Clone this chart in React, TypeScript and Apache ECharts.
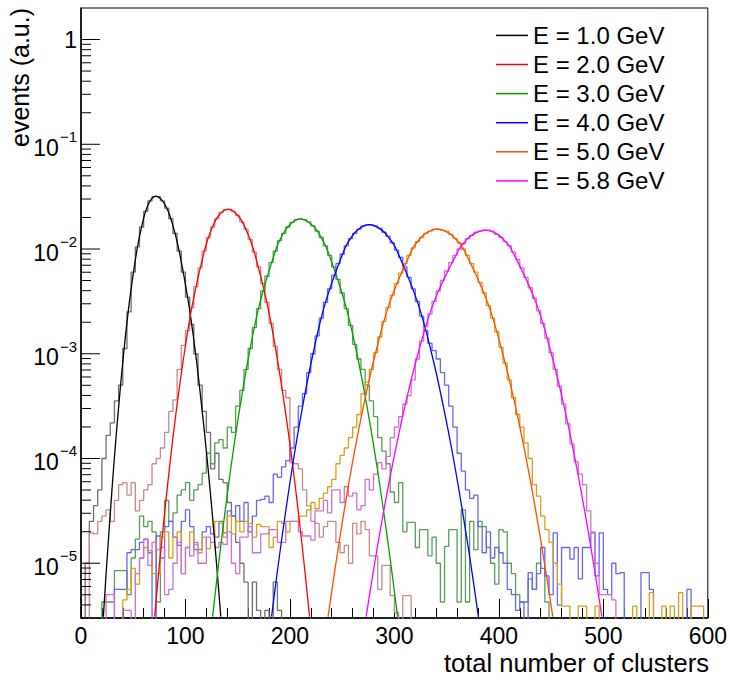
import React, { useEffect, useRef } from "react";
import * as echarts from "echarts";

const N = -9; // empty bin (drawn below the frame, clipped)
const BIN_WIDTH = 4;
const FONT = "'Liberation Sans', Arial, Helvetica, sans-serif";

const seriesNames = ["E = 1.0 GeV", "E = 2.0 GeV", "E = 3.0 GeV", "E = 4.0 GeV", "E = 5.0 GeV", "E = 5.8 GeV"];

// histogram contents, log10(events), one entry per 4-cluster bin from 0 to 600
const h1 = [
  N, -5.0, -4.6, -4.45, -4.3, -4.0, -3.78, -3.66, -3.45, -3.3,
  -2.95, -2.6, -2.22, -1.98, -1.79, -1.64, -1.54, -1.5, -1.5, -1.54,
  -1.61, -1.71, -1.85, -2.02, -2.22, -2.46, -2.72, -3.0, -3.3, -3.55,
  -3.75, -4.1, -3.95, -4.2, -4.23, -4.42, -4.55, -4.8, -5.0, -5.18,
  N, -5.18, -5.45, N, -5.45, N, -5.18, -5.45, N, N,
  N, N, N, N, N, N, N, N, N, N,
  N, N, N, N, N, N, N, N, N, N,
  N, N, N, N, N, N, N, N, N, N,
  N, N, N, N, N, N, N, N, N, N,
  N, N, N, N, N, N, N, N, N, N,
  N, N, N, N, N, N, N, N, N, N,
  N, N, N, N, N, N, N, N, N, N,
  N, N, N, N, N, N, N, N, N, N,
  N, N, N, N, N, N, N, N, N, N,
  N, N, N, N, N, N, N, N, N, N,
];
const h2 = [
  N, N, -4.71, -4.72, -4.6, -4.55, -4.49, -4.6, -4.4, -4.25,
  -4.23, -4.35, -4.23, -4.5, -4.4, -4.3, -4.25, -4.05, -4.0, -3.9,
  -3.75, -3.55, -3.44, -3.15, -2.92, -2.78, -2.56, -2.36, -2.18, -2.02,
  -1.89, -1.79, -1.71, -1.65, -1.625, -1.62, -1.64, -1.68, -1.74, -1.81,
  -1.91, -2.03, -2.17, -2.33, -2.51, -2.71, -2.93, -3.15, -3.35, -3.42,
  -4.04, -4.05, -4.1, -4.3, -4.45, -4.6, -4.62, -4.75, -4.65, -4.6,
  -4.6, -4.8, -4.9, -4.83, -5.0, -4.62, -4.72, -4.6, -4.68, -4.93,
  -4.93, -5.25, -5.02, -5.02, -5.31, -5.47, N, -5.31, -5.31, N,
  N, N, N, N, N, N, N, N, N, N,
  N, N, N, N, N, N, N, N, N, N,
  N, N, N, N, N, N, N, N, N, N,
  N, N, N, N, N, N, N, N, N, N,
  N, N, N, N, N, N, N, N, N, N,
  N, N, N, N, N, N, N, N, N, N,
  N, N, N, N, N, N, N, N, N, N,
];
const h3 = [
  N, N, N, N, N, -5.37, -5.37, -5.37, -5.07, -5.07,
  -5.07, -5.3, -4.95, -4.77, -4.55, -4.65, -4.6, -4.7, -5.37, -4.7,
  -4.4, -4.6, -4.52, -4.35, -4.3, -4.23, -4.4, -4.3, -4.25, -4.14,
  -3.95, -4.05, -3.85, -3.82, -3.9, -3.7, -3.75, -3.5, -3.35, -3.15,
  -2.95, -2.75, -2.57, -2.4, -2.26, -2.13, -2.02, -1.92, -1.85, -1.79,
  -1.745, -1.72, -1.712, -1.72, -1.74, -1.78, -1.83, -1.89, -1.97, -2.06,
  -2.17, -2.29, -2.42, -2.57, -2.73, -2.91, -3.05, -3.15, -3.3, -3.45,
  -3.6, -3.8, -3.93, -4.05, -4.32, -4.42, -4.23, -4.7, -4.61, -4.61,
  -4.85, -4.68, -4.68, -4.93, -4.75, -5.0, -5.37, -4.84, -4.68, -4.68,
  -5.37, -4.49, -5.37, -4.6, -4.87, -4.6, -4.65, -4.85, -5.0, -5.2,
  -4.68, -4.7, -5.0, -5.1, -5.3, -5.37, -5.37, -5.15, -5.25, -5.0,
  -5.05, -5.37, N, N, N, N, N, N, N, N,
  N, N, N, N, N, N, N, N, N, N,
  N, N, N, N, N, N, N, N, N, N,
  N, N, N, N, N, N, N, N, N, N,
];
const h4 = [
  N, N, N, N, N, N, N, N, -5.25, -5.25,
  -5.25, -4.9, -4.87, -4.87, -4.8, -4.77, -4.9, N, -4.74, -4.95,
  -4.65, -4.6, -4.75, -4.83, -4.6, -4.49, -4.65, -4.87, -4.87, -4.7,
  -4.65, -4.72, -4.75, -4.6, -4.71, -4.5, -4.55, -4.45, -4.6, -4.42,
  -4.7, -4.55, -4.4, -4.39, -4.36, -4.42, -4.15, -4.18, -4.08, -4.02,
  -3.9, -3.7, -3.5, -3.38, -3.18, -3.0, -2.83, -2.66, -2.51, -2.38,
  -2.25, -2.14, -2.05, -1.97, -1.9, -1.85, -1.81, -1.78, -1.77, -1.77,
  -1.78, -1.8, -1.84, -1.88, -1.94, -2.01, -2.08, -2.17, -2.27, -2.38,
  -2.5, -2.64, -2.78, -2.9, -2.97, -3.05, -3.18, -3.3, -3.5, -3.7,
  -3.95, -4.12, -4.3, -4.38, -4.35, -4.65, -4.9, -4.7, -4.95, -4.85,
  -4.9, -5.0, -5.25, -5.3, -5.45, -5.37, N, -5.09, -5.25, -5.1,
  -4.85, -5.12, -5.3, -4.71, -5.4, -4.85, -4.85, -4.96, -4.85, -5.15,
  -4.85, -4.85, -4.71, -5.12, -4.71, -5.25, -5.3, -5.0, -5.1, -5.09,
  N, N, N, N, -5.09, -5.09, -5.25, N, N, N,
  N, N, N, N, N, -5.25, N, N, N, N,
];
const h5 = [
  N, N, N, N, N, N, N, N, N, N,
  -5.35, -5.25, -5.05, -5.2, -4.95, -4.85, -4.88, -5.1, -5.1, -4.75,
  -4.7, -4.95, -4.75, -4.7, -5.1, -4.85, -4.7, -4.82, -4.9, -4.75,
  -4.86, -4.8, -4.6, -4.62, -4.75, -4.55, -4.72, -4.6, -4.7, -4.6,
  -4.62, -4.75, -4.63, -4.65, -4.65, -4.85, -4.75, -4.6, -4.62, -4.7,
  -4.6, -4.6, -4.55, -4.55, -4.49, -4.42, -4.48, -4.38, -4.33, -4.27,
  -4.2, -4.05, -3.97, -3.9, -3.8, -3.7, -3.58, -3.38, -3.27, -3.15,
  -2.99, -2.84, -2.69, -2.56, -2.44, -2.33, -2.23, -2.14, -2.06, -1.99,
  -1.93, -1.89, -1.85, -1.83, -1.81, -1.81, -1.82, -1.83, -1.86, -1.9,
  -1.94, -2.0, -2.06, -2.14, -2.22, -2.32, -2.42, -2.54, -2.66, -2.79,
  -2.94, -3.09, -3.25, -3.42, -3.58, -3.7, -3.85, -4.0, -4.25, -4.36,
  -4.55, -4.68, -4.8, -5.0, -5.2, -5.41, -5.41, N, N, -5.41,
  -5.41, N, N, -5.41, N, N, N, N, N, N,
  N, N, -5.41, N, N, N, -5.28, N, N, -5.41,
  N, -5.41, N, -5.28, N, N, -5.41, -5.41, -5.41, N,
];
const h6 = [
  N, N, N, N, N, N, -5.3, -5.3, N, N,
  -5.45, -5.45, N, -5.1, -4.95, -4.77, -5.02, -4.8, -4.87, -4.85,
  -5.3, -5.25, -5.0, -4.8, -5.1, -4.85, -4.93, -4.8, -5.0, -5.0,
  -4.75, -4.8, -4.85, -4.8, -4.82, -4.7, -5.0, -5.1, -4.75, -4.75,
  -4.65, -4.9, -4.9, -4.72, -4.72, -4.68, -4.68, -4.8, -4.8, -4.6,
  -4.6, -4.6, -4.7, -4.74, -4.74, -4.78, -4.5, -4.5, -4.4, -4.52,
  -4.3, -4.3, -4.42, -4.27, -4.36, -4.33, -4.49, -4.45, -4.2, -4.3,
  -4.15, -4.04, -4.1, -3.98, -3.8, -3.7, -3.6, -3.48, -3.4, -3.25,
  -3.05, -2.88, -2.74, -2.62, -2.5, -2.4, -2.3, -2.21, -2.13, -2.06,
  -2.0, -1.95, -1.9, -1.87, -1.84, -1.83, -1.82, -1.82, -1.83, -1.86,
  -1.89, -1.93, -1.97, -2.03, -2.1, -2.18, -2.27, -2.37, -2.47, -2.59,
  -2.71, -2.85, -2.99, -3.15, -3.31, -3.48, -3.67, -3.86, -4.03, -4.15,
  -4.25, -4.5, -4.7, -5.0, -5.3, -5.3, -5.3, -5.35, N, N,
  N, N, N, N, N, N, N, N, N, N,
  N, N, N, N, N, N, N, N, N, N,
];

// fit curves: x positions and log10(events)
const f1x = [21.4, 24.7, 28.2, 31.9, 36.1, 40.8, 46.4, 53.7, 58.9, 64.6, 71.5, 80, 87.2, 93.6, 102.7, 109.7, 115.5, 120.7, 125.4, 129.7, 133.8];
const f1y = [-5.51, -5, -4.5, -4, -3.5, -3, -2.5, -2, -1.75, -1.57, -1.495, -1.57, -1.75, -2, -2.5, -3, -3.5, -4, -4.5, -5, -5.51];
const f2x = [70.5, 75.2, 80.3, 85.7, 91.8, 98.8, 107.2, 118.6, 125.4, 131.8, 140.5, 150.2, 157.3, 165, 177.7, 187.1, 194.9, 201.8, 207.9, 213.5, 218.8];
const f2y = [-5.51, -5, -4.5, -4, -3.5, -3, -2.5, -2, -1.8, -1.68, -1.62, -1.68, -1.8, -2, -2.5, -3, -3.5, -4, -4.5, -5, -5.51];
const f3x = [126, 131.8, 138, 144.7, 152.3, 161, 171.6, 186.7, 191.1, 198.6, 209.8, 222.3, 230.5, 235.5, 252.2, 264.1, 273.7, 282.1, 289.6, 296.5, 303];
const f3y = [-5.51, -5, -4.5, -4, -3.5, -3, -2.5, -2, -1.9, -1.78, -1.712, -1.78, -1.9, -2, -2.5, -3, -3.5, -4, -4.5, -5, -5.51];
const f4x = [182.4, 189, 196, 203.6, 212.2, 222.1, 234.3, 252.3, 257.9, 264.4, 275.5, 288, 295.3, 301.7, 321.9, 335.7, 346.8, 356.5, 365.1, 373, 380.4];
const f4y = [-5.51, -5, -4.5, -4, -3.5, -3, -2.5, -2, -1.9, -1.82, -1.767, -1.82, -1.9, -2, -2.5, -3, -3.5, -4, -4.5, -5, -5.51];
const f5x = [236.5, 244, 251.9, 260.6, 270.4, 281.8, 295.9, 317.3, 324.7, 330.1, 341, 352.5, 358.3, 366.1, 388.8, 403.7, 415.8, 426.1, 435.3, 443.7, 451.6];
const f5y = [-5.51, -5, -4.5, -4, -3.5, -3, -2.5, -2, -1.9, -1.85, -1.81, -1.85, -1.9, -2, -2.5, -3, -3.5, -4, -4.5, -5, -5.51];
const f6x = [272.9, 281.1, 289.8, 299.4, 310.1, 322.6, 338.1, 362, 368.4, 375.3, 387.2, 398.8, 405.5, 411.8, 435.1, 450.2, 462.4, 472.8, 482.1, 490.6, 498.6];
const f6y = [-5.51, -5, -4.5, -4, -3.5, -3, -2.5, -2, -1.92, -1.86, -1.82, -1.86, -1.92, -2, -2.5, -3, -3.5, -4, -4.5, -5, -5.51];

const hists = [h1, h2, h3, h4, h5, h6];
const fitsX = [f1x, f2x, f3x, f4x, f5x, f6x];
const fitsY = [f1y, f2y, f3y, f4y, f5y, f6y];

const fitColors = ["#000000", "#ff0000", "#00a000", "#0000ff", "#ff4c00", "#ff00ff"];
const histColors = ["#707070", "#c78a8a", "#5a9c5a", "#6666f0", "#d8a01a", "#d070d0"];

// axis definition
const X_MIN = 0;
const X_MAX = 600;
const X_STEP = 100;
const Y_MIN = 3e-6;
const Y_MAX = 2;
const yTickDecades = [-6, -5, -4, -3, -2, -1, 0];
const yTickMantissas = [1, 2, 3, 4, 5, 6, 7, 8, 9];

const pow10 = (e: number) => Math.pow(10, e);

function histPoints(h: number[]) {
  const pts: number[][] = h.map((e, i) => [i * BIN_WIDTH, pow10(e)]);
  pts.push([h.length * BIN_WIDTH, pow10(h[h.length - 1])]);
  return pts;
}

export default function App() {
  const ref = useRef<HTMLDivElement>(null);

  useEffect(() => {
    if (!ref.current) return;
    const chart = echarts.init(ref.current, null, { renderer: "svg" });

    const yTicks: number[][] = [];
    yTickDecades.forEach((d) => {
      yTickMantissas.forEach((m) => {
        const v = m * pow10(d);
        if (v >= Y_MIN * 0.999 && v <= 1.5) yTicks.push([0, v, m === 1 ? 1 : 0]);
      });
    });

    const histSeries = hists.map((h, k) => ({
      type: "line",
      name: "hist" + k,
      data: histPoints(h),
      step: "end",
      showSymbol: false,
      symbol: "none",
      clip: true,
      silent: true,
      z: 2,
      lineStyle: { color: histColors[k], width: 1.3 },
    }));

    const fitSeries = fitsX.map((xs, k) => ({
      type: "line",
      name: seriesNames[k],
      color: fitColors[k],
      data: xs.map((x, i) => [x, pow10(fitsY[k][i])]),
      smooth: 0.4,
      showSymbol: false,
      symbol: "none",
      clip: true,
      silent: true,
      z: 3,
      lineStyle: { color: fitColors[k], width: 1.3 },
    }));

    const option: any = {
      animation: false,
      backgroundColor: "#ffffff",
      textStyle: { fontFamily: FONT },
      grid: {
        left: 81,
        right: 20,
        top: 8,
        bottom: 64,
        show: true,
        borderColor: "#000",
        borderWidth: 1,
        backgroundColor: "transparent",
      },
      legend: {
        data: seriesNames,
        orient: "vertical",
        left: 496,
        top: 23.4,
        padding: 0,
        itemWidth: 32,
        itemHeight: 1.5,
        itemGap: 5.1,
        icon: "rect",
        selectedMode: false,
        textStyle: { fontSize: 24, color: "#000", fontFamily: FONT },
      },
      xAxis: {
        type: "value",
        min: X_MIN,
        max: X_MAX,
        interval: X_STEP,
        axisLine: { show: true, lineStyle: { color: "#000", width: 1.5 } },
        axisTick: { show: true, inside: true, length: 19, lineStyle: { color: "#000", width: 1 } },
        minorTick: { show: true, splitNumber: 5, length: 10, lineStyle: { color: "#000", width: 1 } },
        splitLine: { show: false },
        minorSplitLine: { show: false },
        axisLabel: {
          show: true,
          margin: 6,
          fontSize: 23,
          color: "#000",
          fontFamily: FONT,
          showMinLabel: true,
          showMaxLabel: true,
        },
      },
      yAxis: {
        type: "log",
        logBase: 10,
        min: Y_MIN,
        max: Y_MAX,
        axisLine: { show: true, lineStyle: { color: "#000", width: 1.5 } },
        axisTick: { show: false },
        splitLine: { show: false },
        axisLabel: {
          show: true,
          margin: 4,
          color: "#000",
          fontFamily: FONT,
          formatter: (v: number) => {
            const l = Math.log10(v);
            const e = Math.round(l);
            if (Math.abs(l - e) > 1e-6) return "";
            if (e === 0) return "{one|1}";
            return "{b|10}{s|\u2212" + -e + "}";
          },
          rich: {
            one: { fontSize: 23, fontFamily: FONT, color: "#000" },
            b: { fontSize: 23, fontFamily: FONT, color: "#000", verticalAlign: "bottom", padding: [7, 0, 0, 0] },
            s: { fontSize: 15, fontFamily: FONT, color: "#000", verticalAlign: "top", padding: [0, 0, 10, 1] },
          },
        },
      },
      graphic: [
        {
          type: "text",
          x: 19.5,
          y: 8,
          rotation: Math.PI / 2,
          style: {
            text: "events (a.u.)",
            fontSize: 25,
            fontFamily: FONT,
            fill: "#000",
            align: "right",
            verticalAlign: "middle",
          },
        },
        {
          type: "text",
          right: 21,
          top: 650,
          style: {
            text: "total number of clusters",
            fontSize: 25.5,
            fontFamily: FONT,
            fill: "#000",
          },
        },
      ],
      series: [
        ...histSeries,
        ...fitSeries,
        {
          type: "custom",
          name: "yticks",
          coordinateSystem: "cartesian2d",
          silent: true,
          z: 5,
          data: yTicks,
          renderItem: (params: any, api: any) => {
            const p = api.coord([0, api.value(1)]);
            const len = api.value(2) ? 19 : 10;
            return {
              type: "line",
              shape: { x1: p[0], y1: p[1], x2: p[0] + len, y2: p[1] },
              style: { stroke: "#000", lineWidth: 1 },
            };
          },
        },
      ],
    };

    chart.setOption(option);
    return () => chart.dispose();
  }, []);

  return (
    <div
      ref={ref}
      style={{ position: "fixed", left: 0, top: 0, width: 730, height: 682, background: "#fff" }}
    />
  );
}
